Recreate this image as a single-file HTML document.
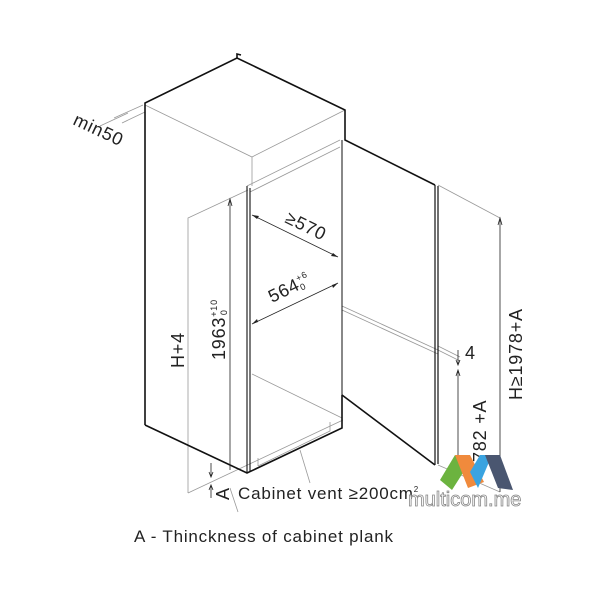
<!DOCTYPE html>
<html><head><meta charset="utf-8"><style>
html,body{margin:0;padding:0;background:#fff;}
svg{display:block;}
text{font-family:"Liberation Sans","DejaVu Sans",sans-serif;fill:#222;letter-spacing:0.8px;}
</style></head><body>
<svg width="600" height="600" viewBox="0 0 600 600" xmlns="http://www.w3.org/2000/svg">
<g fill="none" stroke="#999" stroke-width="0.8">
  <path d="M145,105 L252,157 L345,110"/>
  <path d="M252,157 L252,186"/>
  <path d="M247,186 L340,140"/>
  <path d="M250,192 L340,147"/>
  <path d="M188,493 L188,218 L248,190"/>
  <path d="M188,493 L343,420"/>
  <path d="M252,374 L342,418"/>
  <path d="M143,105 L114,118 M128,113 L100,126 M145,112 L122,123"/>
  <path d="M438,185 L500,218"/>
  <path d="M438,346 L460,357 M438,350 L460,361"/>
  <path d="M342,306 L438,350 M342,310 L438,354"/>
  <path d="M438,465 L500,492"/>
  <path d="M258,466 L330,431 L330,422 M258,466 L258,458"/>
  <path d="M300,450 L310,483"/>
  <path d="M230,488 L238,512"/>
</g>
<g fill="none" stroke="#111" stroke-width="1.6">
  <path d="M145,425 L145,103 L237,58 L345,110 L345,140 L435,185"/>
  <path d="M237,58 L237,54 L241,55"/>
  <path d="M145,425 L247,473 L342,428 L342,395"/>
  <path d="M342,395 L435,465"/>
  <path d="M435,185 L435,465 M438,186 L438,464" stroke-width="1.2"/>
  <path d="M247,186 L247,473 M250,188 L250,471" stroke-width="1.1"/>
  <path d="M342,140 L342,395" stroke-width="1"/>
</g>
<g fill="none" stroke="#222" stroke-width="0.8">
  <path d="M230,199 L230,470"/>
  <path d="M228,206 L230,199 L232,206"/>
  <path d="M252,215 L338,257"/>
  <path d="M252,324 L338,283"/>
  <path d="M500,218 L500,492"/>
  <path d="M498,225 L500,218 L502,225"/>
  <path d="M458,350 L458,365 M456,360 L458,365 L460,360"/>
  <path d="M458,370 L458,470 M456,376 L458,370 L460,376"/>
  <path d="M211,463 L211,477 M209,472 L211,477 L213,472"/>
  <path d="M211,485 L211,498 M209,490 L211,485 L213,490"/>
</g>
<g fill="#222">
  <path d="M252,215 l7,1 l-2,3z M338,257 l-7,-1 l2,-3z"/>
  <path d="M252,324 l5,-5 l1,3z M338,283 l-5,5 l-1,-3z"/>
</g>
<text x="0" y="0" font-size="18" transform="translate(72,124) rotate(25)">min50</text>
<text x="0" y="0" font-size="18" transform="translate(284,222) rotate(26)">≥570</text>
<text x="0" y="0" font-size="18" transform="translate(272,303) rotate(-26)">564<tspan font-size="9" dy="-8">+6</tspan><tspan font-size="9" dx="-12" dy="10">0</tspan></text>
<text x="0" y="0" font-size="18" transform="translate(184,368) rotate(-90)">H+4</text>
<text x="0" y="0" font-size="18" transform="translate(225,360) rotate(-90)">1963<tspan font-size="9" dy="-8">+10</tspan><tspan font-size="9" dx="-16" dy="10">0</tspan></text>
<text x="465" y="359" font-size="18">4</text>
<text x="0" y="0" font-size="18" transform="translate(486,462) rotate(-90)">782 +A</text>
<text x="0" y="0" font-size="18" transform="translate(522,400) rotate(-90)">H≥1978+A</text>
<text x="0" y="0" font-size="18" transform="translate(229,500) rotate(-90)">A</text>
<text x="238" y="499" font-size="17">Cabinet vent ≥200cm<tspan font-size="8" dy="-7">2</tspan></text>
<text x="134" y="542" font-size="17">A - Thinckness of cabinet plank</text>
<g>
  <polygon points="440,480 455,455 466,468 452,490" fill="#6cb33f"/>
  <polygon points="455,455 470,455 484,482 468,488" fill="#f08a3c"/>
  <polygon points="470,472 480,455 492,455 478,488" fill="#3aa3e0"/>
  <polygon points="485,455 500,455 513,490 498,488" fill="#4a5670"/>
  <text x="408" y="506" font-size="20" style="fill:#fff;stroke:#888;stroke-width:0.8;letter-spacing:0">multicom.me</text>
</g>
</svg>
</body></html>
